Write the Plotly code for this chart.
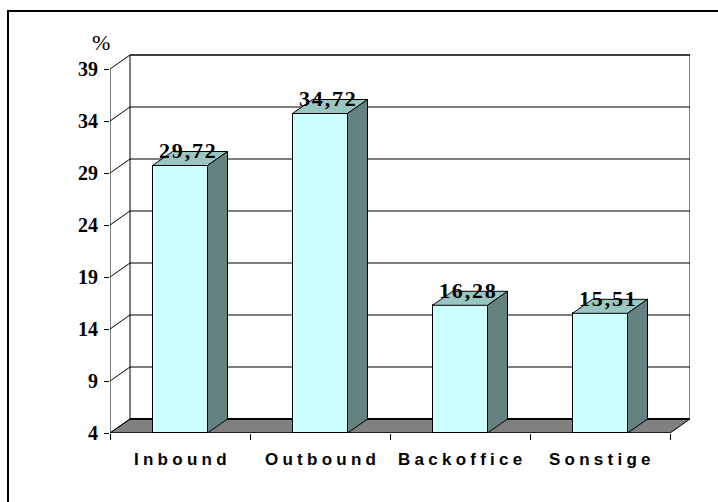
import plotly.graph_objects as go

# ---- data ----
categories = ["Inbound", "Outbound", "Backoffice", "Sonstige"]
values = [29.72, 34.72, 16.28, 15.51]
value_labels = ["29,72", "34,72", "16,28", "15,51"]
y_ticks = [4, 9, 14, 19, 24, 29, 34, 39]
y_unit = "%"

# ---- layout geometry ----
W, H = 718, 502
ML, MR, MT, MB = 110, 28, 54, 69
PW, PH = W - ML - MR, H - MT - MB
n = len(categories)
px_per_cat = 140.0
px_per_unit = 10.4
ymin = y_ticks[0]
ytop = y_ticks[-1]
x0 = -0.5
xr = [x0, x0 + PW / px_per_cat]
yr = [ymin, ymin + PH / px_per_unit]
dx = 20 / px_per_cat          # depth offset in x data units
dy = 14 / px_per_unit         # depth offset in y data units
bw = 55 / px_per_cat          # bar width
x_end = x0 + n

FRONT = "#CCFFFF"
TOP = "#9AC6C2"
SIDE = "#638280"
FLOOR = "#808080"

xs = list(range(n))

fig = go.Figure()
fig.add_trace(go.Bar(
    x=xs, y=[v - ymin for v in values], base=ymin, width=bw,
    marker=dict(color=FRONT, line=dict(color="black", width=1)),
    hoverinfo="skip", showlegend=False,
))

shapes = []
def poly(pts, fill, layer, lw=1, lc="black"):
    d = "M " + " L ".join(f"{a},{b}" for a, b in pts) + " Z"
    shapes.append(dict(type="path", path=d, xref="x", yref="y", fillcolor=fill,
                       line=dict(color=lc, width=lw), layer=layer))
def line(xa, ya, xb, yb, layer="below", lw=1, color="black"):
    shapes.append(dict(type="line", x0=xa, y0=ya, x1=xb, y1=yb, xref="x", yref="y",
                       line=dict(color=color, width=lw), layer=layer))

# back wall (white) and grid
poly([(x0 + dx, ymin + dy), (x_end + dx, ymin + dy), (x_end + dx, ytop + dy), (x0 + dx, ytop + dy)],
     "white", "below", lw=1)
for g in y_ticks[1:]:
    line(x0 + dx, g + dy, x_end + dx, g + dy)
    line(x0, g, x0 + dx, g + dy)
# floor
poly([(x0, ymin), (x_end, ymin), (x_end + dx, ymin + dy), (x0 + dx, ymin + dy)], FLOOR, "below", lw=1)
line(x0 + dx, ymin + dy, x_end + dx, ymin + dy, lw=2)
line(x0, ymin, x0 + dx, ymin + dy)
# front axes
line(x0, ymin, x0, ytop, layer="above")
line(x0, ymin, x_end, ymin, layer="above")

# bar tops and sides
for i, v in enumerate(values):
    a, b = i - bw / 2, i + bw / 2
    poly([(a, v), (b, v), (b + dx, v + dy), (a + dx, v + dy)], TOP, "above")
    poly([(b, ymin), (b, v), (b + dx, v + dy), (b + dx, ymin + dy)], SIDE, "above")

# outer border (only top and left visible)
def pxx(p): return (p - ML) / PW
def pxy(p): return (H - MB - p) / PH
shapes.append(dict(type="rect", xref="paper", yref="paper",
                   x0=pxx(8), x1=pxx(760), y0=pxy(11), y1=pxy(540),
                   line=dict(color="black", width=2), layer="below"))

annotations = []
for i, (v, t) in enumerate(zip(values, value_labels)):
    spaced = "\u200a".join(t)
    annotations.append(dict(x=i + dx * 0.35, y=v + dy, text=f"<b>{spaced}</b>", showarrow=False,
                            xanchor="center", yanchor="middle", yshift=1,
                            font=dict(family="Liberation Serif", size=22, color="black")))
for i, c in enumerate(categories):
    spaced = "\u2005".join(c)
    annotations.append(dict(x=i, y=ymin, text=f"<b>{spaced}</b>", showarrow=False,
                            xanchor="center", yanchor="middle", yshift=-26,
                            font=dict(family="Liberation Sans", size=17, color="black")))
annotations.append(dict(x=x0, y=ytop, text=y_unit, showarrow=False, xanchor="center",
                        yanchor="middle", xshift=-9, yshift=27,
                        font=dict(family="Liberation Serif", size=22, color="black")))

fig.update_layout(
    width=W, height=H, margin=dict(l=ML, r=MR, t=MT, b=MB),
    paper_bgcolor="white", plot_bgcolor="rgba(0,0,0,0)",
    shapes=shapes, annotations=annotations, showlegend=False, bargap=0,
    xaxis=dict(range=xr, showgrid=False, zeroline=False, showline=False,
               tickmode="array", tickvals=[x0 + k for k in range(n + 1)],
               ticktext=[""] * (n + 1), ticks="outside", ticklen=6, tickcolor="black",
               fixedrange=True),
    yaxis=dict(range=yr, showgrid=False, zeroline=False, showline=False,
               tickmode="array", tickvals=y_ticks, ticktext=[f"<b>{t}</b>" for t in y_ticks],
               ticks="outside", ticklen=5, tickcolor="black", ticklabelstandoff=2,
               tickfont=dict(family="Liberation Serif", size=20, color="black"),
               fixedrange=True),
)

fig.write_html("out.html")
